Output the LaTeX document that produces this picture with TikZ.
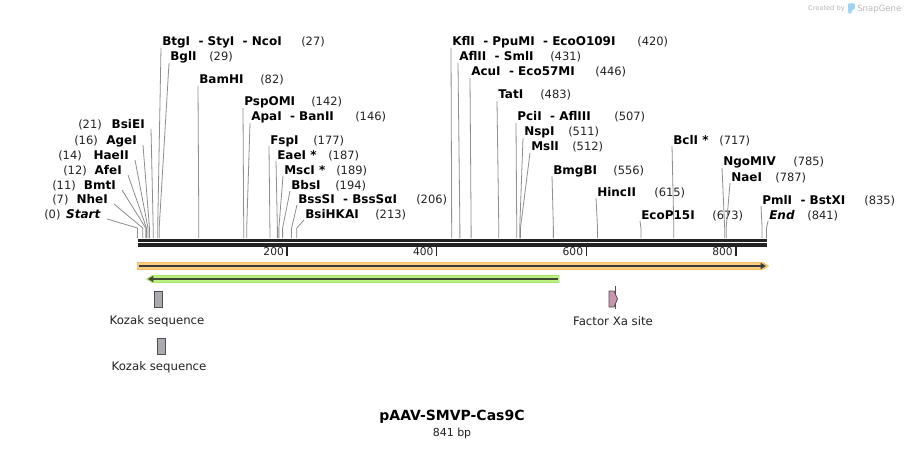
\documentclass[tikz,border=0pt]{standalone}
\usepackage{fontspec}
\setmainfont{DejaVu Sans}
\usetikzlibrary{arrows.meta}
\definecolor{cutgray}{HTML}{8E8E8E}
\definecolor{bardark}{HTML}{232323}
\definecolor{numcol}{HTML}{222222}
\definecolor{orangef}{HTML}{FBCD80}
\definecolor{orangeb}{HTML}{F7BE66}
\definecolor{greenf}{HTML}{BDF283}
\definecolor{greenb}{HTML}{A8E46C}
\definecolor{featdark}{HTML}{3A3A3A}
\definecolor{greendark}{HTML}{3E4A34}
\definecolor{kozakf}{HTML}{A9ABB0}
\definecolor{xaf}{HTML}{C995B0}
\definecolor{boxline}{HTML}{505050}
\definecolor{wmgray}{HTML}{B8B8B8}
\definecolor{wmblue}{HTML}{9DD4F2}
\tikzset{
  cutline/.style={draw=cutgray, line width=0.6pt},
  ename/.style={font=\bfseries\fontsize{9}{11}\selectfont, inner sep=0pt},
  enum/.style={font=\fontsize{8.6}{10}\selectfont, text=numcol, inner sep=0pt},
  barline/.style={draw=bardark, line width=2.5pt},
  tickline/.style={draw=bardark, line width=1.1pt},
  ticklab/.style={font=\fontsize{8}{10}\selectfont, text=numcol, inner sep=0pt},
  featlab/.style={font=\fontsize{8.8}{10}\selectfont, text=numcol, inner sep=0pt},
  kozak/.style={draw=boxline, fill=kozakf, line width=0.6pt, minimum width=6pt, minimum height=12pt, inner sep=0pt},
}
\newcommand\enzR[5]{%
  \pgfmathsetmacro\sitex{137.5+0.748*#1}%
  \coordinate (s#1) at (\sitex,238);
  \coordinate (b#1) at (\sitex,228);
  \node[ename, anchor=base west] (e#1) at (#2,#3+4) {#4};
  \node[enum, anchor=base west] (n#1) at (#5,#3+4) {(#1)};
  \draw[cutline] (s#1) -- (b#1) -- ([xshift=-0.75pt,yshift=-1.5pt]e#1.base west);
}
\newcommand\enzL[5]{%
  \pgfmathsetmacro\sitex{137.5+0.748*#1}%
  \coordinate (s#1) at (\sitex,238);
  \coordinate (b#1) at (\sitex,228);
  \node[ename, anchor=base east] (e#1) at (#2,#3+4) {#4};
  \node[enum, anchor=base west] (n#1) at (#5,#3+4) {(#1)};
  \draw[cutline] (s#1) -- (b#1) -- ([xshift=4.5pt,yshift=-0.75pt]e#1.base east);
}
\begin{document}
\begin{tikzpicture}[x=0.75pt,y=-0.75pt]
\useasboundingbox (0,0) rectangle (905,449);
\fill[white] (0,0) rectangle (905,449);

% watermark
\node[font=\fontsize{5}{6}\selectfont, text=wmgray, inner sep=0pt, anchor=base east] (wm1) at (845,11) {Created by};
\fill[wmblue, rounded corners=0.8pt] (848,3.5) -- (855,3.5) -- (855,9) -- (851.5,10) -- (851.5,14) -- (848,13) -- cycle;
\node[font=\fontsize{6.4}{7}\selectfont, text=wmgray, inner sep=0pt, anchor=base west] (wm2) at (857,11.5) {SnapGene};

% sequence bar
\coordinate (barL1) at (137.5,240.5);
\coordinate (barR1) at (767,240.5);
\coordinate (barL2) at (137.5,245);
\coordinate (barR2) at (767,245);
\draw[barline] (barL1) -- (barR1);
\draw[barline] (barL2) -- (barR2);

% ticks
\foreach \t in {200,400,600,800}{
  \pgfmathsetmacro\tx{137.5+0.748*\t}
  \coordinate (ta\t) at (\tx,246.5);
  \coordinate (tb\t) at (\tx,256);
  \draw[tickline] (ta\t) -- (tb\t);
  \node[ticklab, anchor=base east] (tl\t) at (\tx-3,255.5) {\t};
}

% left-side enzymes
\enzL{21}{145}{124}{BsiEI}{78}
\enzL{16}{137}{140}{AgeI}{74}
\enzL{14}{129}{155}{HaeII}{58}
\enzL{12}{122}{170}{AfeI}{63}
\enzL{11}{116}{185}{BmtI}{52}
\enzL{7}{108}{199}{NheI}{52}
\enzL{0}{101}{214}{\textit{Start}}{44}

% right-side enzymes
\enzR{27}{162}{42}{BtgI~~-~StyI~~-~NcoI}{301}
\enzR{29}{170}{57}{BglI}{209}
\enzR{82}{199}{80}{BamHI}{260}
\enzR{142}{244}{102}{PspOMI}{311}
\enzR{146}{251}{117}{ApaI~~-~BanII}{355}
\enzR{177}{270}{140}{FspI}{313}
\enzR{187}{277}{155}{EaeI *}{328}
\enzR{189}{284}{170}{MscI *}{336}
\enzR{194}{291}{185}{BbsI}{335}
\enzR{206}{298}{199}{BssSI~~-~BssSαI}{416}
\enzR{213}{305}{214}{BsiHKAI}{375}
\enzR{420}{452}{42}{KflI~~-~PpuMI~~-~EcoO109I}{637}
\enzR{431}{459}{57}{AflII~~-~SmlI}{550}
\enzR{446}{471}{72}{AcuI~~-~Eco57MI}{595}
\enzR{483}{498}{95}{TatI}{540}
\enzR{507}{517}{117}{PciI~~-~AflIII}{614}
\enzR{511}{524}{132}{NspI}{568}
\enzR{512}{531}{147}{MslI}{572}
\enzR{556}{553}{170}{BmgBI}{613}
\enzR{615}{597}{192}{HincII}{654}
\enzR{673}{641}{215}{EcoP15I}{712}
\enzR{717}{673}{140}{BclI *}{719}
\enzR{785}{723}{162}{NgoMIV}{793}
\enzR{787}{731}{177}{NaeI}{775}
\enzR{835}{762}{200}{PmlI~~-~BstXI}{864}
\enzR{841}{769}{215}{\textit{End}}{807}

% orange feature (forward)
\fill[orangef, draw=orangeb, line width=0.5pt] (137.5,262.5) -- (763,262.5) -- (768.5,266) -- (763,269.5) -- (137.5,269.5) -- cycle;
\coordinate (oa) at (139,266);
\coordinate (ob) at (766,266);
\draw[featdark, line width=1.6pt, -{Triangle[length=4pt,width=4.5pt]}] (oa) -- (ob);

% green feature (reverse)
\fill[greenf, draw=greenb, line width=0.5pt] (559,275.5) -- (152,275.5) -- (146.5,279) -- (152,282.5) -- (559,282.5) -- cycle;
\coordinate (ga) at (557.5,279);
\coordinate (gb) at (148,279);
\draw[greendark, line width=1.6pt, -{Triangle[length=4pt,width=4.5pt]}] (ga) -- (gb);

% Kozak boxes
\node[kozak] (koz1) at (158,299) {};
\node[featlab] (kozl1) at (157,321) {Kozak sequence};
\node[kozak] (koz2) at (161,346) {};
\node[featlab] (kozl2) at (159,367) {Kozak sequence};

% Factor Xa site
\coordinate (xat) at (615.5,286);
\coordinate (xab) at (615.5,309);
\draw[boxline, line width=0.6pt] (xat) -- (xab);
\filldraw[fill=xaf, draw=boxline, line width=0.6pt] (609,291) -- (614,291) -- (617.5,299) -- (614,307) -- (609,307) -- cycle;
\node[featlab] (xal) at (613,321) {Factor Xa site};

% title
\node[font=\bfseries\fontsize{10.5}{12}\selectfont, inner sep=0pt] (title) at (452,417) {pAAV-SMVP-Cas9C};
\node[font=\fontsize{8.25}{10}\selectfont, text=numcol, inner sep=0pt] (len) at (452,433) {841 bp};
\end{tikzpicture}
\end{document}
